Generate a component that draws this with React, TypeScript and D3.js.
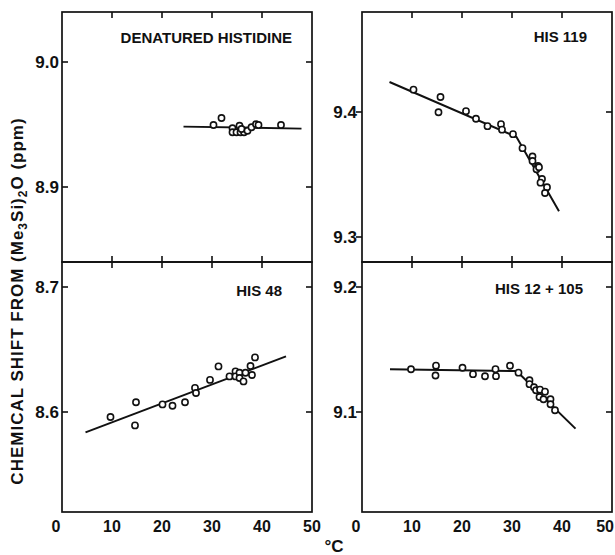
import React from "react";
import * as d3 from "d3";

// ---------- data ----------
const xTickValues = [0, 10, 20, 30, 40, 50];

const denatTemp = [30.3, 31.9, 34.1, 34.1, 34.9, 35.5, 35.7, 36.4, 35.9, 37.1, 37.9, 38.8, 39.3, 43.8];
const denatShift = [8.9496, 8.9552, 8.947, 8.9438, 8.9438, 8.949, 8.9438, 8.9438, 8.9464, 8.945, 8.9478, 8.9502, 8.9496, 8.9496];
const denatLineTemp = [24.3, 47.9];
const denatLineShift = [8.9483, 8.9467];

const his119Temp = [10.3, 15.7, 15.3, 20.8, 22.8, 25.1, 27.8, 28.0, 30.2, 32.1, 34.1, 34.1, 35.2, 34.9, 35.4, 36.0, 35.7, 37.0, 36.6];
const his119Shift = [9.4179, 9.412, 9.3998, 9.4007, 9.3946, 9.3887, 9.3903, 9.3859, 9.3823, 9.3711, 9.3644, 9.3608, 9.3568, 9.3542, 9.3558, 9.3464, 9.3435, 9.3398, 9.3352];
const his119LineTemp = [5.5, 30.9, 39.4];
const his119LineShift = [9.424, 9.38, 9.3206];

const his48Temp = [9.7, 14.8, 14.6, 20.1, 22.1, 24.6, 26.6, 26.8, 29.6, 31.3, 33.5, 34.7, 34.7, 35.5, 35.5, 36.3, 36.7, 37.7, 38.0, 38.6];
const his48Shift = [8.596, 8.6078, 8.5893, 8.6061, 8.605, 8.6078, 8.6193, 8.6152, 8.6257, 8.6365, 8.6285, 8.6325, 8.6285, 8.6314, 8.6272, 8.6245, 8.6314, 8.6368, 8.6296, 8.6437];
const his48LineTemp = [4.7, 44.8];
const his48LineShift = [8.5837, 8.6445];

const his12Temp = [9.8, 14.8, 14.7, 20.1, 22.2, 24.6, 26.7, 26.8, 29.6, 31.3, 33.5, 33.5, 34.4, 34.8, 35.6, 36.6, 35.5, 36.3, 37.7, 37.7, 38.6];
const his12Shift = [9.1342, 9.1371, 9.1292, 9.1354, 9.1303, 9.1286, 9.1343, 9.1287, 9.137, 9.1315, 9.1254, 9.1223, 9.1198, 9.1174, 9.1179, 9.1163, 9.112, 9.1102, 9.1102, 9.1062, 9.1014];
const his12LineTemp = [5.6, 30.9, 42.7];
const his12LineShift = [9.1342, 9.1328, 9.0867];

const panelTitles = ["DENATURED HISTIDINE", "HIS 119", "HIS 48", "HIS 12 + 105"];
const yDomains: [number, number][] = [[8.84, 9.04], [9.28, 9.48], [8.52, 8.72], [9.02, 9.22]];
const yTickValues = [[8.9, 9.0], [9.3, 9.4], [8.6, 8.7], [9.1, 9.2]];
const yAxisLabel = ["CHEMICAL SHIFT FROM (Me", "3", "Si)", "2", "O (ppm)"];
const xAxisLabel = "°C";

// ---------- layout ----------
const W = 615, H = 555;
const FONT = "'Liberation Sans', Arial, Helvetica, sans-serif";
const panelSize = 250;
const panelOrigins = [
  { x: 62, y: 12, title: { dx: -20, y: 43 }, leftOut: false, bottomLabels: false },
  { x: 362, y: 12, title: { dx: -25, y: 42 }, leftOut: true, bottomLabels: false },
  { x: 62, y: 262, title: { dx: -30, y: 296 }, leftOut: false, bottomLabels: true },
  { x: 362, y: 262, title: { dx: -29, y: 294 }, leftOut: true, bottomLabels: true },
];
const pointSets = [
  { t: denatTemp, v: denatShift, lt: denatLineTemp, lv: denatLineShift },
  { t: his119Temp, v: his119Shift, lt: his119LineTemp, lv: his119LineShift },
  { t: his48Temp, v: his48Shift, lt: his48LineTemp, lv: his48LineShift },
  { t: his12Temp, v: his12Shift, lt: his12LineTemp, lv: his12LineShift },
];

function Panel({ i }: { i: number }) {
  const o = panelOrigins[i];
  const x = d3.scaleLinear().domain([0, 50]).range([o.x, o.x + panelSize]);
  const y = d3.scaleLinear().domain(yDomains[i]).range([o.y + panelSize, o.y]);
  const ps = pointSets[i];
  const line = d3
    .line<number>()
    .x((_, k) => x(ps.lt[k]))
    .y((d) => y(d));
  const tickLen = 6;
  const innerX = xTickValues.filter((t) => t > 0 && t < 50);
  return (
    <g>
      <rect x={o.x} y={o.y} width={panelSize} height={panelSize} fill="none" stroke="#111" strokeWidth={1.7} />
      {innerX.map((t) => (
        <g key={"xt" + t}>
          <line x1={x(t)} x2={x(t)} y1={o.y} y2={o.y + tickLen} stroke="#111" strokeWidth={1.6} />
          {!o.bottomLabels && (
            <line x1={x(t)} x2={x(t)} y1={o.y + panelSize} y2={o.y + panelSize - tickLen} stroke="#111" strokeWidth={1.6} />
          )}
        </g>
      ))}
      {yTickValues[i].map((t) => (
        <g key={"yt" + t}>
          <line
            x1={o.leftOut ? o.x - tickLen : o.x}
            x2={o.leftOut ? o.x : o.x + tickLen}
            y1={y(t)}
            y2={y(t)}
            stroke="#111"
            strokeWidth={1.6}
          />
          <line x1={o.x + panelSize - tickLen} x2={o.x + panelSize} y1={y(t)} y2={y(t)} stroke="#111" strokeWidth={1.6} />
          <text
            x={o.x - (o.leftOut ? 5 : 3)}
            y={y(t)}
            dy="0.36em"
            textAnchor="end"
            fontFamily={FONT}
            fontWeight="bold"
            fontSize={17}
            fill="#111"
          >
            {d3.format(".1f")(t)}
          </text>
        </g>
      ))}
      {o.bottomLabels &&
        xTickValues.map((t) => {
          const overflow = x(t) + 9 > W;
          return (
            <text
              key={"xl" + t}
              x={overflow ? W - 1 : x(t) + (t === 0 ? -6 : 0)}
              y={532}
              textAnchor={overflow ? "end" : "middle"}
              fontFamily={FONT}
              fontWeight="bold"
              fontSize={16}
              fill="#111"
            >
              {t}
            </text>
          );
        })}
      <path d={line(ps.lv) || ""} fill="none" stroke="#111" strokeWidth={2} />
      {ps.t.map((t, k) => (
        <circle key={k} cx={x(t)} cy={y(ps.v[k])} r={3.1} fill="#fff" stroke="#111" strokeWidth={1.6} />
      ))}
      <text
        x={o.x + panelSize + o.title.dx}
        y={o.title.y}
        textAnchor="end"
        fontFamily={FONT}
        fontWeight="bold"
        fontSize={15}
        fill="#111"
      >
        {panelTitles[i]}
      </text>
    </g>
  );
}

export default function App() {
  return (
    <svg width={W} height={H} style={{ position: "absolute", left: 0, top: 0, background: "#fff" }}>
      <rect x={0} y={0} width={W} height={H} fill="#fff" />
      {[0, 1, 2, 3].map((i) => (
        <Panel key={i} i={i} />
      ))}
      <text
        transform="translate(23,301) rotate(-90)"
        textAnchor="middle"
        fontFamily={FONT}
        fontWeight="bold"
        fontSize={17}
        letterSpacing={1.0}
        fill="#111"
      >
        {yAxisLabel[0]}
        <tspan dy={4} fontSize={12}>{yAxisLabel[1]}</tspan>
        <tspan dy={-4}>{yAxisLabel[2]}</tspan>
        <tspan dy={4} fontSize={12}>{yAxisLabel[3]}</tspan>
        <tspan dy={-4}>{yAxisLabel[4]}</tspan>
      </text>
      <text x={334} y={552} textAnchor="middle" fontFamily={FONT} fontWeight="bold" fontSize={17} fill="#111">
        {xAxisLabel}
      </text>
    </svg>
  );
}
